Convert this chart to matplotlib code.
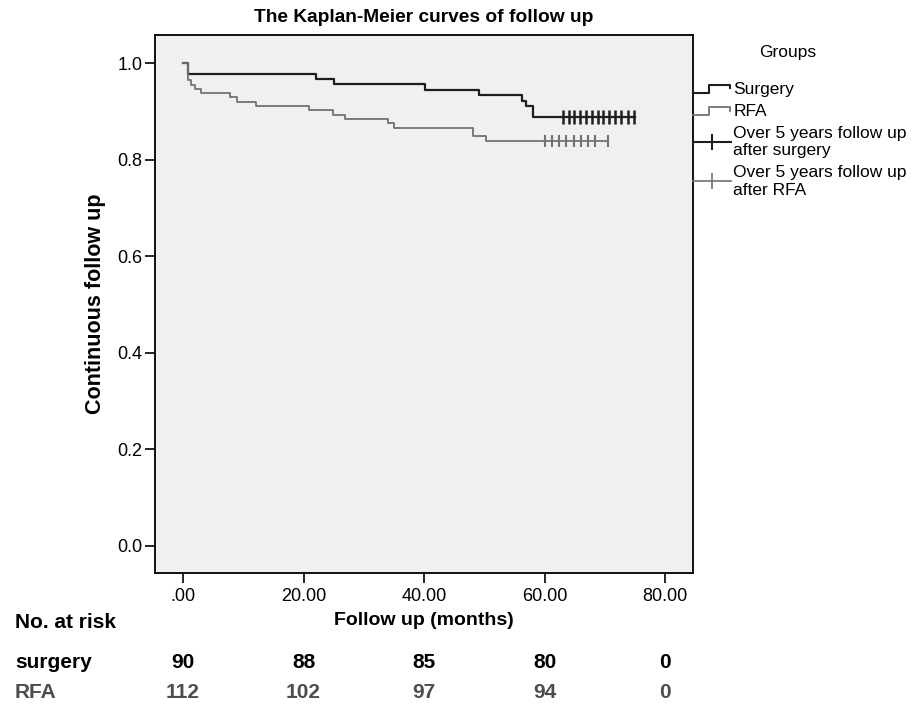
# Kaplan-Meier follow-up curves, surgery vs RFA, with number-at-risk table

import matplotlib

matplotlib.use("Agg")
import matplotlib.pyplot as plt
from matplotlib.legend_handler import HandlerBase
from matplotlib.lines import Line2D
from matplotlib.transforms import blended_transform_factory

plt.rcParams["font.family"] = ["Liberation Sans", "DejaVu Sans"]

# step curves (time in months, continuous follow-up proportion)
surgery_t = [0, 0.8, 22.0, 25.1, 40.2, 49.1, 56.2, 56.9, 58.1]
surgery_s = [1.0, 0.978, 0.967, 0.956, 0.944, 0.933, 0.922, 0.911, 0.889]
surgery_end = 74.9
surgery_cens = [63.0, 64.0, 64.9, 65.9, 66.8, 67.8, 68.8, 69.7, 70.7, 71.7, 72.7, 73.8, 74.8]

rfa_t = [0, 0.8, 1.4, 2.0, 2.9, 7.8, 9.0, 12.1, 20.9, 24.8, 26.9, 34.0, 35.0, 48.1, 50.3]
rfa_s = [1.0, 0.964, 0.955, 0.946, 0.938, 0.929, 0.920, 0.911, 0.902, 0.893, 0.884,
         0.875, 0.866, 0.848, 0.839]
rfa_end = 70.5
rfa_cens = [60.0, 61.2, 62.4, 63.6, 64.8, 66.0, 67.2, 68.3, 70.5]

# number at risk table
risk_times = [0, 20, 40, 60, 80]
risk_surgery = [90, 88, 85, 80, 0]
risk_rfa = [112, 102, 97, 94, 0]

xticks = [0, 20, 40, 60, 80]
xtick_labels = [".00", "20.00", "40.00", "60.00", "80.00"]
yticks = [0.0, 0.2, 0.4, 0.6, 0.8, 1.0]

SURG_C = "#1e1e1e"
RFA_C = "#727272"
RISK_RFA_C = "#4d4d4d"


class StepHandler(HandlerBase):
    # SPSS-style little step glyph for the legend
    def create_artists(self, legend, orig_handle, xdescent, ydescent, width, height, fontsize, trans):
        fx = [0.0, 0.42, 0.42, 0.97, 0.97]
        fy = [0.05, 0.05, 0.75, 0.75, 0.45]
        xs = [-xdescent + width * v for v in fx]
        ys = [-ydescent + height * v for v in fy]
        ln = Line2D(xs, ys, color=orig_handle.get_color(), lw=orig_handle.get_linewidth())
        ln.set_transform(trans)
        return [ln]


def step_xy(t, s, end):
    return list(t) + [end], list(s) + [s[-1]]


fig = plt.figure(figsize=(9.14, 7.10), dpi=100)
ax = fig.add_axes([155 / 914, 1 - 573 / 710, 538 / 914, 538 / 710])
ax.set_facecolor("#f0f0f0")

x, y = step_xy(surgery_t, surgery_s, surgery_end)
ax.step(x, y, where="post", color=SURG_C, lw=1.6)
ax.plot(surgery_cens, [surgery_s[-1]] * len(surgery_cens), ls="none", marker="|",
        ms=10, mew=1.8, color=SURG_C)

x, y = step_xy(rfa_t, rfa_s, rfa_end)
ax.step(x, y, where="post", color=RFA_C, lw=1.3)
ax.plot(rfa_cens, [rfa_s[-1]] * len(rfa_cens), ls="none", marker="|",
        ms=9, mew=1.5, color=RFA_C)

ax.set_xlim(-4.65, 84.6)
ax.set_ylim(-0.056, 1.058)
ax.set_xticks(xticks)
ax.set_xticklabels(xtick_labels)
ax.set_yticks(yticks)
ax.set_yticklabels([f"{v:.1f}" for v in yticks])
ax.tick_params(axis="both", direction="out", length=7, width=1.2, labelsize=13)
ax.tick_params(axis="y", pad=2)
ax.tick_params(axis="x", pad=4)
for sp in ax.spines.values():
    sp.set_linewidth(1.3)

ax.set_ylabel("Continuous follow up", fontsize=15.5, fontweight="bold", labelpad=8)
ax.set_xlabel("Follow up (months)", fontsize=14, fontweight="bold", labelpad=5)
fig.text(424 / 914, 1 - 17 / 710, "The Kaplan-Meier curves of follow up",
         ha="center", va="center", fontsize=13.8, fontweight="bold")

# legend outside on the right, title drawn separately
fig.text(788 / 914, 1 - 52 / 710, "Groups", ha="center", va="center", fontsize=12.5)
h_s = Line2D([], [], color=SURG_C, lw=1.5)
h_r = Line2D([], [], color=RFA_C, lw=1.3)
h_cs = Line2D([], [], color=SURG_C, lw=1.5, marker="|", ms=12, mew=1.5)
h_cr = Line2D([], [], color=RFA_C, lw=1.2, marker="|", ms=12, mew=1.2)
ax.legend([h_s, h_r, h_cs, h_cr],
          ["Surgery", "RFA", "Over 5 years follow up\nafter surgery",
           "Over 5 years follow up\nafter RFA"],
          handler_map={h_s: StepHandler(), h_r: StepHandler()},
          loc="upper left", bbox_to_anchor=(1.0, 0.913),
          frameon=False, borderpad=0, borderaxespad=0, handlelength=2.2,
          handletextpad=0.12, labelspacing=0.4, fontsize=12.5)

# number at risk rows
tr = blended_transform_factory(ax.transData, fig.transFigure)
fig.text(15 / 914, 1 - 623 / 710, "No. at risk", ha="left", va="center",
         fontsize=15, fontweight="bold")
fig.text(15 / 914, 1 - 663 / 710, "surgery", ha="left", va="center",
         fontsize=15, fontweight="bold", color="black")
fig.text(15 / 914, 1 - 692 / 710, "RFA", ha="left", va="center",
         fontsize=15, fontweight="bold", color=RISK_RFA_C)
for t, n in zip(risk_times, risk_surgery):
    ax.text(t, 1 - 663 / 710, str(n), transform=tr, ha="center", va="center",
            fontsize=15, fontweight="bold", color="black")
for t, n in zip(risk_times, risk_rfa):
    ax.text(t, 1 - 692 / 710, str(n), transform=tr, ha="center", va="center",
            fontsize=15, fontweight="bold", color=RISK_RFA_C)

fig.savefig("out.png", dpi=100)
